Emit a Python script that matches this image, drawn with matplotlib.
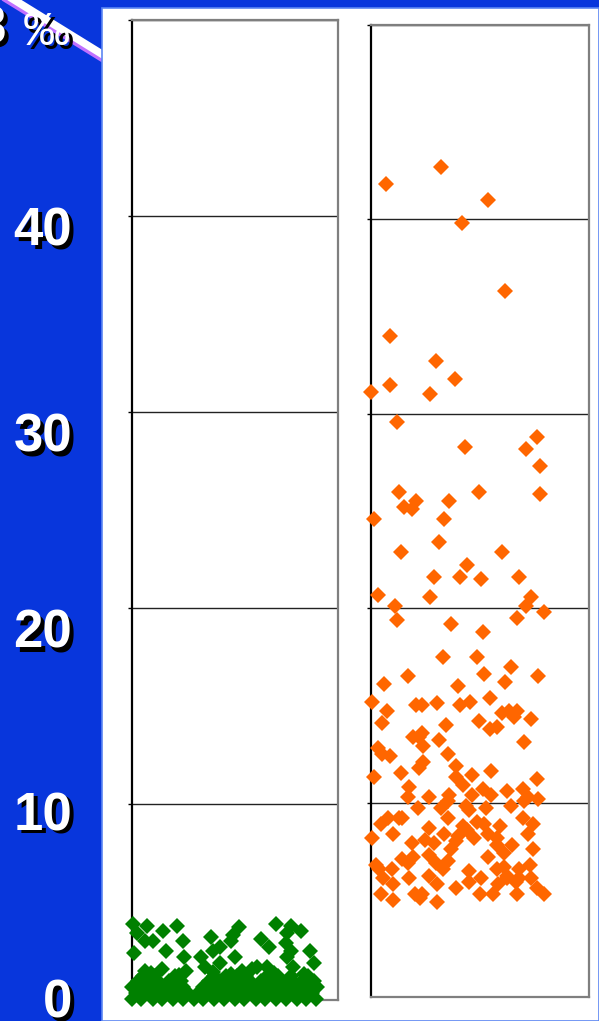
import matplotlib
matplotlib.use("Agg")
import matplotlib.pyplot as plt
from matplotlib.patches import Rectangle
from matplotlib.lines import Line2D

# ---- data ----
# left column (green), dense pile near zero plus scattered points up to ~4
green_x = [0.005, 0.08, 0.165, 0.24, 0.027, 0.07, 0.11, 0.27, 0.42, 0.57, 0.54, 0.53, 0.47,
           0.77, 0.85, 0.90, 0.83, 0.69, 0.73, 0.82, 0.95, 0.01, 0.18, 0.28, 0.37, 0.43,
           0.55, 0.83, 0.85, 0.97, 0.07, 0.16, 0.29, 0.39, 0.47, 0.67, 0.72, 0.86, 0.64,
           0.00, 0.05, 0.11, 0.16, 0.22, 0.27, 0.33, 0.38, 0.44, 0.49, 0.55, 0.60, 0.66,
           0.71, 0.77, 0.82, 0.88, 0.93, 0.98,
           0.02, 0.08, 0.13, 0.19, 0.24, 0.30, 0.35, 0.41, 0.46, 0.52, 0.57, 0.63, 0.68,
           0.74, 0.79, 0.85, 0.90, 0.96,
           0.00, 0.05, 0.11, 0.16, 0.22, 0.27, 0.38, 0.44, 0.49, 0.55, 0.60, 0.66, 0.71,
           0.77, 0.82, 0.88, 0.93, 0.99,
           0.03, 0.09, 0.14, 0.20, 0.26, 0.41, 0.47, 0.52, 0.58, 0.63, 0.69, 0.75, 0.80,
           0.86, 0.91, 0.97,
           0.06, 0.12, 0.23, 0.44, 0.50, 0.56, 0.61, 0.72, 0.78, 0.85, 0.94,
           0.10, 0.25, 0.43, 0.53, 0.59, 0.76, 0.92]
green_y = [3.9, 3.8, 3.5, 3.8, 3.4, 3.0, 3.0, 3.0, 3.2, 3.7, 3.3, 3.0, 2.7,
           3.9, 3.8, 3.5, 3.4, 3.1, 2.7, 2.9, 2.5, 2.4, 2.5, 2.2, 2.2, 2.5,
           2.2, 2.2, 2.5, 1.9, 1.5, 1.6, 1.5, 1.7, 1.9, 1.7, 1.7, 1.7, 1.6,
           0.05, 0.05, 0.05, 0.05, 0.05, 0.05, 0.05, 0.05, 0.05, 0.05, 0.05, 0.05, 0.05,
           0.05, 0.05, 0.05, 0.05, 0.05, 0.05,
           0.35, 0.35, 0.35, 0.35, 0.35, 0.35, 0.35, 0.35, 0.35, 0.35, 0.35, 0.35, 0.35,
           0.35, 0.35, 0.35, 0.35, 0.35,
           0.65, 0.65, 0.65, 0.65, 0.65, 0.65, 0.65, 0.65, 0.65, 0.65, 0.65, 0.65, 0.65,
           0.65, 0.65, 0.65, 0.65, 0.65,
           0.95, 0.95, 0.95, 0.95, 0.95, 0.95, 0.95, 0.95, 0.95, 0.95, 0.95, 0.95, 0.95,
           0.95, 0.95, 0.95,
           1.25, 1.25, 1.25, 1.25, 1.25, 1.25, 1.25, 1.25, 1.25, 1.25, 1.25,
           1.4, 1.3, 1.45, 1.35, 1.5, 1.4, 1.35]

# right column (orange)
orange_x = [0.40, 0.086, 0.67, 0.52, 0.77, 0.11, 0.37, 0.48, 0.11, 0.0, 0.34, 0.15,
            0.95, 0.54, 0.89, 0.97, 0.16, 0.62, 0.97, 0.26, 0.19, 0.235, 0.45, 0.42, 0.02,
            0.39, 0.17, 0.75, 0.55, 0.36, 0.51, 0.63, 0.85, 0.04, 0.34, 0.92, 0.14, 0.89,
            0.99, 0.15, 0.46, 0.84, 0.64,
            0.41, 0.61, 0.80, 0.65, 0.21, 0.96, 0.075, 0.77, 0.50, 0.006, 0.68, 0.26, 0.29,
            0.38, 0.51, 0.57, 0.09, 0.75, 0.79, 0.84, 0.82, 0.92, 0.063, 0.43, 0.62, 0.72,
            0.68, 0.29, 0.24, 0.275, 0.39, 0.88, 0.30, 0.04, 0.063, 0.11, 0.44, 0.30, 0.275,
            0.49, 0.17, 0.69, 0.02, 0.49, 0.58, 0.95, 0.22, 0.53, 0.64, 0.78, 0.87, 0.21,
            0.33, 0.45, 0.58, 0.69, 0.90, 0.96, 0.44, 0.88,
            0.27, 0.40, 0.545, 0.56, 0.66, 0.80, 0.057, 0.097, 0.16, 0.18, 0.87, 0.44, 0.93,
            0.33, 0.126, 0.42, 0.53, 0.61, 0.65, 0.74, 0.90, 0.006, 0.31, 0.36, 0.50, 0.59,
            0.67, 0.72, 0.235, 0.49, 0.55, 0.81, 0.46, 0.72, 0.76, 0.93, 0.67, 0.33, 0.18,
            0.24, 0.21, 0.03, 0.046, 0.12, 0.37, 0.44, 0.41, 0.56, 0.72, 0.76, 0.85, 0.91,
            0.069, 0.126, 0.22, 0.33, 0.38, 0.49, 0.56, 0.63, 0.73, 0.78, 0.83, 0.85, 0.92,
            0.95, 0.99, 0.057, 0.126, 0.25, 0.28, 0.29, 0.38, 0.625, 0.70, 0.84, 0.78]
orange_y = [42.7, 41.8, 41.0, 39.8, 36.3, 34.0, 32.7, 31.8, 31.5, 31.1, 31.0, 29.6,
            28.8, 28.3, 28.2, 27.3, 26.0, 26.0, 25.9, 25.5, 25.2, 25.1, 25.5, 24.6, 24.6,
            23.4, 22.9, 22.9, 22.2, 21.6, 21.6, 21.5, 21.6, 20.7, 20.6, 20.6, 20.1, 20.1,
            19.8, 19.4, 19.2, 19.5, 18.8,
            17.5, 17.5, 17.0, 16.6, 16.5, 16.5, 16.1, 16.2, 16.0, 15.2, 15.4, 15.0, 15.0,
            15.1, 15.0, 15.2, 14.7, 14.6, 14.7, 14.7, 14.4, 14.3, 14.1, 14.0, 14.2, 13.9,
            13.8, 13.6, 13.4, 13.4, 13.2, 13.1, 12.9, 12.8, 12.5, 12.4, 12.5, 12.1, 11.8,
            11.9, 11.5, 11.6, 11.3, 11.3, 11.4, 11.2, 10.8, 10.9, 10.7, 10.6, 10.7, 10.3,
            10.3, 10.4, 10.4, 10.4, 10.3, 10.2, 10.1, 10.1,
            9.7, 9.7, 9.8, 9.6, 9.7, 9.8, 8.9, 9.2, 9.2, 9.2, 9.2, 9.2, 8.9,
            8.7, 8.4, 8.4, 8.8, 9.0, 8.9, 8.8, 8.4, 8.2, 8.1, 7.9, 8.3, 8.2,
            8.4, 8.2, 7.9, 8.0, 8.6, 7.8, 7.6, 7.8, 7.4, 7.6, 7.2, 7.3, 7.1,
            7.2, 6.9, 6.8, 6.6, 6.6, 6.9, 7.0, 6.6, 6.5, 6.6, 6.7, 6.6, 6.8,
            6.1, 5.8, 6.1, 6.2, 5.8, 5.6, 5.9, 6.1, 5.8, 6.1, 5.9, 6.1, 6.1,
            5.6, 5.3, 5.3, 5.0, 5.3, 5.1, 5.3, 4.9, 5.3, 5.3, 5.3, 6.2]

y_ticks = [0, 10, 20, 30, 40]

W, H = 599, 1021
BLUE = "#0836dc"
GREEN = "#008000"
ORANGE = "#ff6600"

fig = plt.figure(figsize=(W / 100, H / 100), dpi=100, facecolor=BLUE)

def fx(px):
    return px / W

def fy(py):
    return 1 - py / H

# diagonal stripe at top left (under the white panel)
fig.add_artist(Line2D([fx(3), fx(105)], [fy(-4), fy(59)], color="#c070ff", lw=6.5, zorder=0.5))
fig.add_artist(Line2D([fx(3), fx(105)], [fy(-7), fy(56)], color="white", lw=5.5, zorder=0.6))

# white slide panel
fig.add_artist(Rectangle((fx(102), 0), 1 - fx(102), fy(8), transform=fig.transFigure,
                         facecolor="white", edgecolor="#5c86f2", lw=1.2, zorder=1))

# axis numbers with drop shadow
label_pos = {40: 232, 30: 438, 20: 634, 10: 816, 0: 1003}
for v in y_ticks:
    py = label_pos[v]
    fig.text(fx(76), fy(py + 4), str(v), color="black", fontsize=38, fontweight="bold",
             family="Liberation Sans", ha="right", va="center", zorder=2)
    fig.text(fx(72), fy(py), str(v), color="white", fontsize=38, fontweight="bold",
             family="Liberation Sans", ha="right", va="center", zorder=3)

# cut-off unit label at top left
fig.text(fx(10), fy(34), "8", color="black", fontsize=38, fontweight="bold",
         family="Liberation Sans", ha="right", va="center", zorder=2)
fig.text(fx(6), fy(30), "8", color="white", fontsize=38, fontweight="bold",
         family="Liberation Sans", ha="right", va="center", zorder=3)
fig.text(fx(27), fy(37), "\u2030", color="black", fontsize=34,
         family="Liberation Sans", ha="left", va="center", zorder=2)
fig.text(fx(23), fy(33), "\u2030", color="white", fontsize=34,
         family="Liberation Sans", ha="left", va="center", zorder=3)


def style_axis(ax):
    ax.set_ylim(0, 50)
    ax.set_yticks(y_ticks[1:] + [50])
    ax.set_yticklabels([])
    ax.set_xticks([])
    ax.tick_params(axis="y", direction="out", length=3, width=1, color="black")
    ax.yaxis.grid(True, color="#222222", lw=1)
    ax.set_axisbelow(True)
    ax.spines["left"].set_color("black")
    ax.spines["left"].set_linewidth(1.6)
    for s in ("top", "right", "bottom"):
        ax.spines[s].set_color("#7f7f7f")
        ax.spines[s].set_linewidth(1.6)
    ax.set_facecolor("white")


ax1 = fig.add_axes([fx(132), fy(1000), (338 - 132) / W, 980 / H], zorder=4)
style_axis(ax1)
ax1.set_xlim(0, 1.1)
ax1.plot(green_x, green_y, "D", color=GREEN, ms=8.3, mew=0, clip_on=False, zorder=5)

ax2 = fig.add_axes([fx(371), fy(997), (589 - 371) / W, 972 / H], zorder=4)
style_axis(ax2)
ax2.set_xlim(0, 1.25)
ax2.plot(orange_x, orange_y, "D", color=ORANGE, ms=8.3, mew=0, clip_on=False, zorder=5)

fig.savefig("out.png", dpi=100, facecolor=BLUE)
